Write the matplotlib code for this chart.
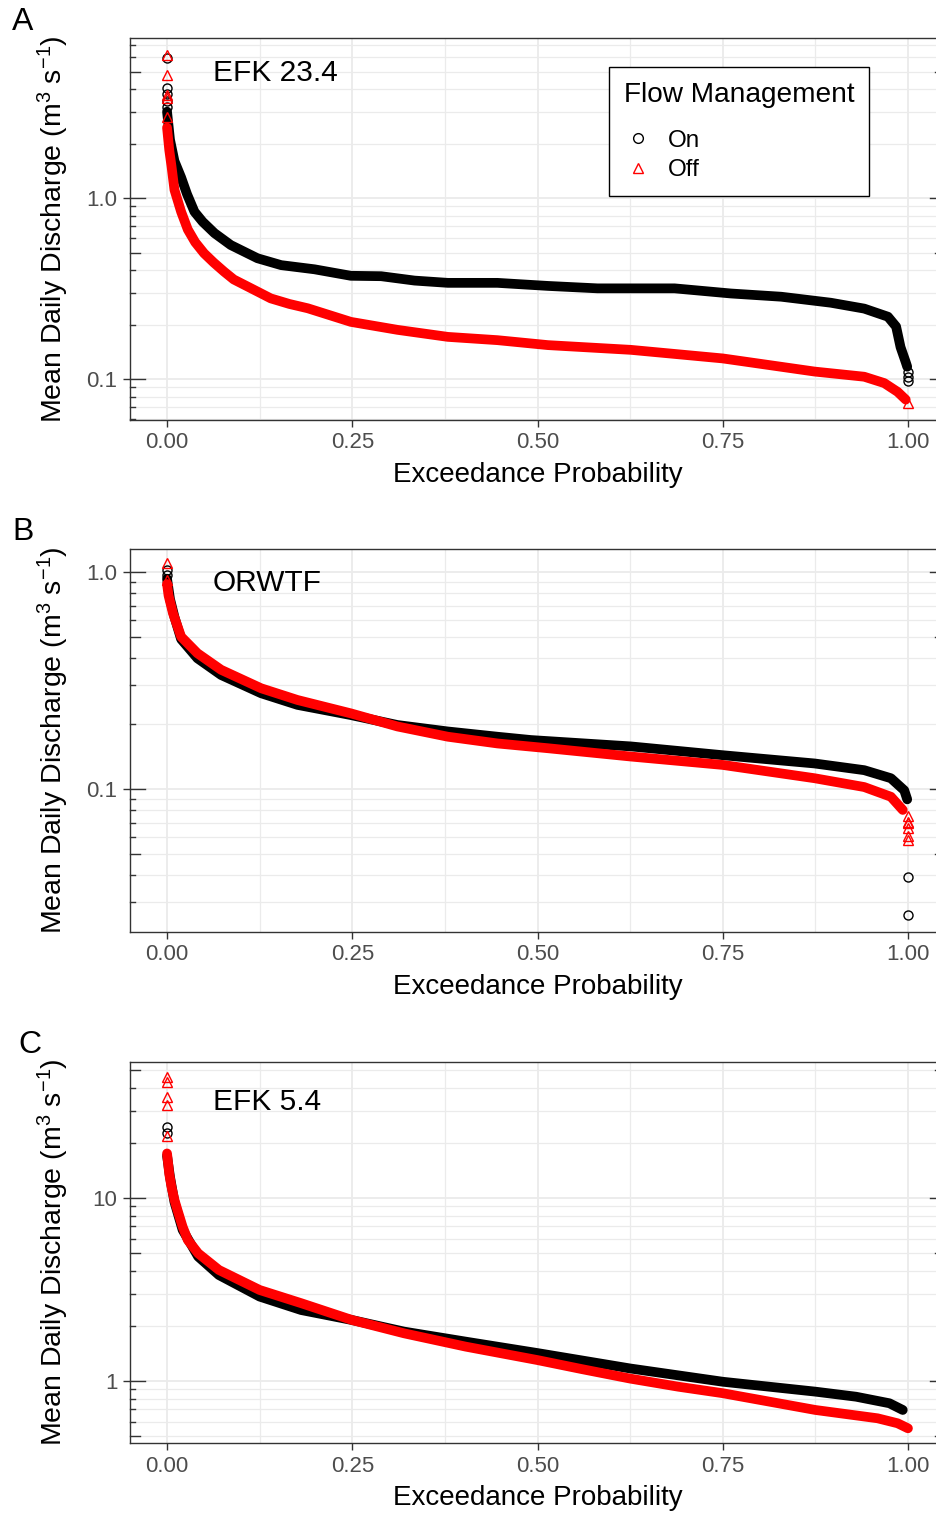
import matplotlib
matplotlib.use("Agg")
import matplotlib.pyplot as plt
import matplotlib.transforms as mtransforms
from matplotlib.lines import Line2D
from matplotlib.ticker import FixedLocator, FixedFormatter, NullFormatter

plt.rcParams['font.family'] = ['Liberation Sans', 'DejaVu Sans']
plt.rcParams['mathtext.fontset'] = 'custom'
plt.rcParams['mathtext.rm'] = 'Liberation Sans'
plt.rcParams['mathtext.it'] = 'Liberation Sans:italic'

# ---- panel A: EFK 23.4 ----
a_on_p = [0.000, 0.004, 0.010, 0.019, 0.027, 0.037, 0.048, 0.064, 0.086, 0.122, 0.154, 0.199, 0.248,
          0.289, 0.334, 0.379, 0.446, 0.514, 0.581, 0.685, 0.761, 0.829, 0.896, 0.941, 0.973, 0.984,
          0.990, 0.997, 0.999]
a_on_q = [3.0, 2.1, 1.6, 1.30, 1.05, 0.84, 0.74, 0.64, 0.55, 0.465, 0.426, 0.404, 0.372,
          0.370, 0.350, 0.340, 0.340, 0.327, 0.317, 0.317, 0.297, 0.285, 0.264, 0.245, 0.221, 0.195,
          0.150, 0.124, 0.117]
a_on_xp = [0.0, 0.0, 0.0, 0.0, 0.0, 1.0, 1.0, 1.0]
a_on_xq = [5.95, 4.05, 3.75, 3.45, 3.2, 0.110, 0.103, 0.097]
a_off_p = [0.000, 0.003, 0.006, 0.010, 0.019, 0.028, 0.038, 0.050, 0.063, 0.077, 0.090, 0.109, 0.125,
           0.140, 0.165, 0.190, 0.220, 0.248, 0.311, 0.379, 0.446, 0.514, 0.626, 0.750, 0.874, 0.941,
           0.968, 0.986, 0.997]
a_off_q = [2.45, 1.84, 1.50, 1.11, 0.84, 0.67, 0.57, 0.495, 0.44, 0.392, 0.355, 0.324, 0.300,
           0.279, 0.260, 0.246, 0.225, 0.207, 0.187, 0.171, 0.164, 0.154, 0.145, 0.130, 0.110, 0.103,
           0.095, 0.085, 0.077]
a_off_xp = [0.0, 0.0, 0.0, 0.0, 0.0, 1.0]
a_off_xq = [6.16, 4.78, 3.71, 3.55, 2.81, 0.074]

# ---- panel B: ORWTF ----
b_on_p = [0.000, 0.004, 0.010, 0.019, 0.041, 0.073, 0.127, 0.176, 0.248, 0.311, 0.379, 0.446,
          0.491, 0.626, 0.750, 0.874, 0.941, 0.977, 0.995, 0.999]
b_on_q = [0.93, 0.75, 0.62, 0.49, 0.40, 0.335, 0.276, 0.244, 0.219, 0.197, 0.184, 0.174,
          0.168, 0.157, 0.143, 0.131, 0.122, 0.112, 0.0985, 0.0895]
b_on_xp = [0.0, 0.0, 1.0, 1.0]
b_on_xq = [1.02, 0.97, 0.0394, 0.0263]
b_off_p = [0.000, 0.002, 0.008, 0.019, 0.041, 0.073, 0.127, 0.176, 0.248, 0.311, 0.379, 0.446,
           0.514, 0.626, 0.750, 0.874, 0.941, 0.977, 0.993]
b_off_q = [0.88, 0.78, 0.645, 0.503, 0.422, 0.354, 0.291, 0.257, 0.223, 0.194, 0.174, 0.162,
           0.154, 0.141, 0.129, 0.112, 0.102, 0.092, 0.080]
b_off_xp = [0.0, 0.0, 1.0, 1.0, 1.0, 1.0, 1.0, 1.0]
b_off_xq = [1.097, 0.919, 0.0747, 0.0707, 0.0695, 0.0658, 0.0604, 0.0584]

# ---- panel C: EFK 5.4 ----
c_on_p = [0.000, 0.004, 0.010, 0.021, 0.042, 0.070, 0.125, 0.181, 0.250, 0.320, 0.403, 0.500,
          0.625, 0.750, 0.875, 0.930, 0.975, 0.993]
c_on_q = [17.0, 13.0, 9.5, 6.69, 4.78, 3.79, 2.89, 2.44, 2.15, 1.86, 1.64, 1.42,
          1.17, 0.99, 0.874, 0.82, 0.755, 0.694]
c_on_xp = [0.0, 0.0]
c_on_xq = [24.4, 22.6]
c_off_p = [0.000, 0.003, 0.006, 0.010, 0.014, 0.021, 0.028, 0.042, 0.070, 0.125, 0.181, 0.250,
           0.320, 0.403, 0.500, 0.560, 0.625, 0.690, 0.750, 0.875, 0.959, 0.986, 1.000]
c_off_q = [17.5, 13.5, 11.5, 9.75, 8.6, 6.96, 5.89, 4.98, 4.04, 3.14, 2.66, 2.15,
           1.82, 1.54, 1.30, 1.16, 1.03, 0.93, 0.857, 0.694, 0.625, 0.587, 0.551]
c_off_xp = [0.0, 0.0, 0.0, 0.0, 0.0]
c_off_xq = [45.9, 43.2, 35.8, 32.2, 21.7]

x_ticks = [0.0, 0.25, 0.5, 0.75, 1.0]
x_labels = ['0.00', '0.25', '0.50', '0.75', '1.00']
x_minor = [0.125, 0.375, 0.625, 0.875]

GRID = '#EBEBEB'
DARK = '#333333'
TICKC = '#4D4D4D'

fig = plt.figure(figsize=(9.37, 15.14), dpi=100)
W, H = 937.0, 1514.0


def add_panel(top, bottom, ylim, yticks, ylabels, site, site_y,
              on_p, on_q, on_xp, on_xq, off_p, off_q, off_xp, off_xq):
    ax = fig.add_axes([130 / W, 1 - bottom / H, 815 / W, (bottom - top) / H])
    ax.set_yscale('log')
    ax.set_xlim(-0.05, 1.05)
    ax.set_ylim(*ylim)

    # flow duration curves (dense markers drawn as a thick band)
    ax.plot(on_p, on_q, color='black', lw=7, solid_capstyle='round', solid_joinstyle='round', zorder=3)
    ax.plot(on_xp, on_xq, ls='none', marker='o', mfc='none', mec='black', ms=6.5, mew=1.0, zorder=3)
    ax.plot(off_p, off_q, color='#FF0000', lw=7, solid_capstyle='round', solid_joinstyle='round', zorder=4)
    ax.plot(off_xp, off_xq, ls='none', marker='^', mfc='none', mec='#FF0000', ms=7, mew=1.0, zorder=4)

    # axes styling
    ax.xaxis.set_major_locator(FixedLocator(x_ticks))
    ax.xaxis.set_major_formatter(FixedFormatter(x_labels))
    ax.xaxis.set_minor_locator(FixedLocator(x_minor))
    ax.yaxis.set_major_locator(FixedLocator(yticks))
    ax.yaxis.set_major_formatter(FixedFormatter(ylabels))
    lo, hi = ylim
    minors = [m * 10.0 ** d for d in range(-3, 3) for m in range(2, 10) if lo <= m * 10.0 ** d <= hi]
    ax.yaxis.set_minor_locator(FixedLocator(minors))
    ax.yaxis.set_minor_formatter(NullFormatter())

    ax.grid(True, which='major', color=GRID, lw=1.3, zorder=0)
    ax.grid(True, which='minor', color=GRID, lw=0.9, zorder=0)
    ax.set_axisbelow(True)
    for s in ax.spines.values():
        s.set_color(DARK)
        s.set_linewidth(1.0)
    ax.tick_params(axis='both', which='major', direction='out', length=5, width=1.0,
                   color=DARK, labelcolor=TICKC, labelsize=16, pad=4)
    ax.tick_params(axis='both', which='minor', length=0)

    # log ticks inside the panel, left and right
    tr = mtransforms.blended_transform_factory(ax.transAxes, ax.transData)
    for d in range(-3, 3):
        for m in range(1, 10):
            v = m * 10.0 ** d
            if not (lo <= v <= hi):
                continue
            L = (15 if m == 1 else 10 if m == 5 else 5) / 815.0
            ax.plot([0, L], [v, v], transform=tr, color=DARK, lw=1.0, clip_on=False, zorder=5)
            ax.plot([1 - L, 1], [v, v], transform=tr, color=DARK, lw=1.0, clip_on=False, zorder=5)

    ax.set_xlabel('Exceedance Probability', fontsize=20, labelpad=6)
    ax.set_ylabel('Mean Daily Discharge (m$^{3}$ s$^{-1}$)', fontsize=20.5)
    ax.yaxis.set_label_coords(-0.072, 0.5)
    ax.text(83 / 815, site_y, site, transform=ax.transAxes, fontsize=21.5, ha='left', va='center')
    return ax


axA = add_panel(38, 420, (0.0594, 7.66), [0.1, 1.0], ['0.1', '1.0'], 'EFK 23.4', 0.908,
                a_on_p, a_on_q, a_on_xp, a_on_xq, a_off_p, a_off_q, a_off_xp, a_off_xq)
axB = add_panel(549, 932, (0.0219, 1.276), [0.1, 1.0], ['0.1', '1.0'], 'ORWTF', 0.911,
                b_on_p, b_on_q, b_on_xp, b_on_xq, b_off_p, b_off_q, b_off_xp, b_off_xq)
axC = add_panel(1062, 1443, (0.458, 55.3), [1, 10], ['1', '10'], 'EFK 5.4', 0.895,
                c_on_p, c_on_q, c_on_xp, c_on_xq, c_off_p, c_off_q, c_off_xp, c_off_xq)

handles = [Line2D([], [], ls='none', marker='o', mfc='none', mec='black', ms=7, mew=1.0, label='On'),
           Line2D([], [], ls='none', marker='^', mfc='none', mec='#FF0000', ms=7.5, mew=1.0, label='Off')]
leg = axA.legend(handles=handles, title='Flow Management', loc='upper left',
                 bbox_to_anchor=(609 / W, 1 - 67 / H), bbox_transform=fig.transFigure,
                 frameon=True, fancybox=False, edgecolor='black', framealpha=1,
                 fontsize=17.5, title_fontsize=20.2, borderaxespad=0, borderpad=0.6,
                 handlelength=1.15, handletextpad=0.66, labelspacing=0.3)
leg._legend_box.align = 'left'
leg._legend_box.sep = 16
leg.get_frame().set_linewidth(1.0)

fig.text(12 / W, 1 - 7 / H, 'A', fontsize=23, ha='left', va='top')
fig.text(12 / W, 1 - 517 / H, 'B', fontsize=23, ha='left', va='top')
fig.text(18 / W, 1 - 1030 / H, 'C', fontsize=23, ha='left', va='top')

fig.savefig('out.png', dpi=100)
